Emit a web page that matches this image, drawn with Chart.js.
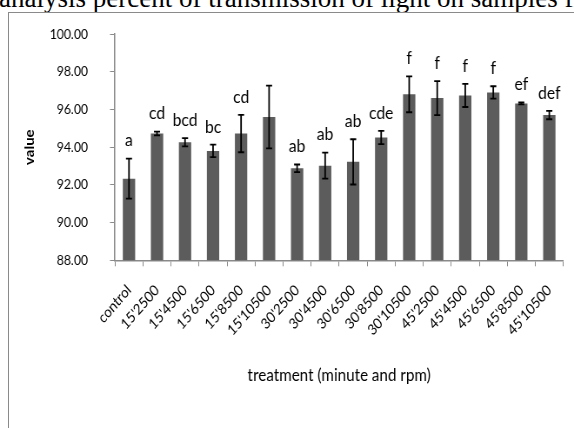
<!DOCTYPE html>
<html>
<head>
<meta charset="utf-8">
<script src="https://cdn.jsdelivr.net/npm/chart.js@4/dist/chart.umd.min.js"></script>
<style>
  html,body{margin:0;padding:0;background:#fff;}
  body{width:574px;height:428px;position:relative;overflow:hidden;}
  #cap{position:absolute;left:-1px;top:-15px;font:27px/1 "Liberation Serif","Times New Roman",serif;color:#000;white-space:nowrap;}
  #frame{position:absolute;left:8px;top:12px;width:580px;height:430px;border-left:1.5px solid #8a8a8a;border-top:1.5px solid #8a8a8a;}
  /* the plot is laid out wider and squeezed back to the page width */
  #wrap{position:absolute;left:0;top:0;width:660px;height:428px;transform:scaleX(0.8697);transform-origin:0 0;}
</style>
</head>
<body>
<div id="cap">analysis percent of transmission of light on samples from</div>
<div id="frame"></div>
<div id="wrap"><canvas id="c"></canvas></div>
<script>
// treatments (minute'rpm), mean transmission, std error, significance groups
const treatments = ["control","15'2500","15'4500","15'6500","15'8500","15'10500",
  "30'2500","30'4500","30'6500","30'8500","30'10500",
  "45'2500","45'4500","45'6500","45'8500","45'10500"];
const means = [92.33, 94.72, 94.26, 93.80, 94.72, 95.60, 92.88, 93.02, 93.22, 94.51,
  96.80, 96.60, 96.74, 96.90, 96.32, 95.70];
const errs = [1.06, 0.10, 0.22, 0.33, 0.99, 1.66, 0.20, 0.69, 1.20, 0.35,
  0.95, 0.90, 0.61, 0.33, 0.05, 0.22];
const groups = ["a","cd","bcd","bc","cd","","ab","ab","ab","cde","f","f","f","f","ef","def"];
const yTicks = [88, 90, 92, 94, 96, 98, 100];

const FONT = "Lato,'Open Sans',sans-serif";
const AXIS = "#8a8a8a";

// error whiskers + group letters above each bar
const errorBars = {
  id: "errorBars",
  afterDatasetsDraw(chart){
    const ctx = chart.ctx, y = chart.scales.y;
    const bars = chart.getDatasetMeta(0).data;
    ctx.save();
    ctx.strokeStyle = "#000"; ctx.lineWidth = 1.8;
    ctx.fillStyle = "#000";
    ctx.font = "18px " + FONT;
    ctx.textAlign = "center"; ctx.textBaseline = "middle";
    bars.forEach((bar, i) => {
      const hi = y.getPixelForValue(means[i] + errs[i]);
      const lo = y.getPixelForValue(means[i] - errs[i]);
      const x = bar.x;
      ctx.beginPath();
      ctx.moveTo(x, hi); ctx.lineTo(x, lo);
      ctx.moveTo(x - 3.5, hi); ctx.lineTo(x + 3.5, hi);
      ctx.moveTo(x - 3.5, lo); ctx.lineTo(x + 3.5, lo);
      ctx.stroke();
      if (groups[i]) ctx.fillText(groups[i], x, hi - 18);
    });
    ctx.restore();
  }
};

new Chart(document.getElementById("c"), {
  type: "bar",
  data: {
    labels: treatments,
    datasets: [{ data: means, backgroundColor: "#5c5c5c", borderWidth: 0,
      barPercentage: 0.44, categoryPercentage: 1 }]
  },
  options: {
    responsive: true, maintainAspectRatio: false, animation: false,
    layout: { padding: { left: 11.5, top: 34, right: 12.3, bottom: 42 } },
    plugins: { legend: { display: false }, tooltip: { enabled: false } },
    scales: {
      x: {
        grid: { drawOnChartArea: false, drawTicks: true, tickLength: 6, color: AXIS },
        border: { display: true, color: AXIS, width: 1.5 },
        ticks: { color: "#000", font: { family: FONT, size: 15 }, minRotation: 45, maxRotation: 45, padding: 15 },
        title: { display: true, text: "treatment (minute and rpm)", color: "#000",
          font: { family: FONT, size: 17.5 }, padding: 0 },
        afterFit(s){ s.height = 125.7; }
      },
      y: {
        min: 88, max: 100,
        afterBuildTicks(s){ s.ticks = yTicks.map(v => ({ value: v })); },
        grid: { drawOnChartArea: false, drawTicks: true, tickLength: 5.75, color: AXIS },
        border: { display: true, color: AXIS, width: 1.5 },
        ticks: { color: "#000", font: { family: FONT, size: 14 }, padding: 25.3,
          callback: v => Number(v).toFixed(2) },
        title: { display: true, text: "value", color: "#000",
          font: { family: FONT, size: 15, weight: "bold" }, padding: { top: 14, bottom: 0 } },
        afterFit(s){ s.width = 120.7; }
      }
    }
  },
  plugins: [errorBars]
});
</script>
</body>
</html>
